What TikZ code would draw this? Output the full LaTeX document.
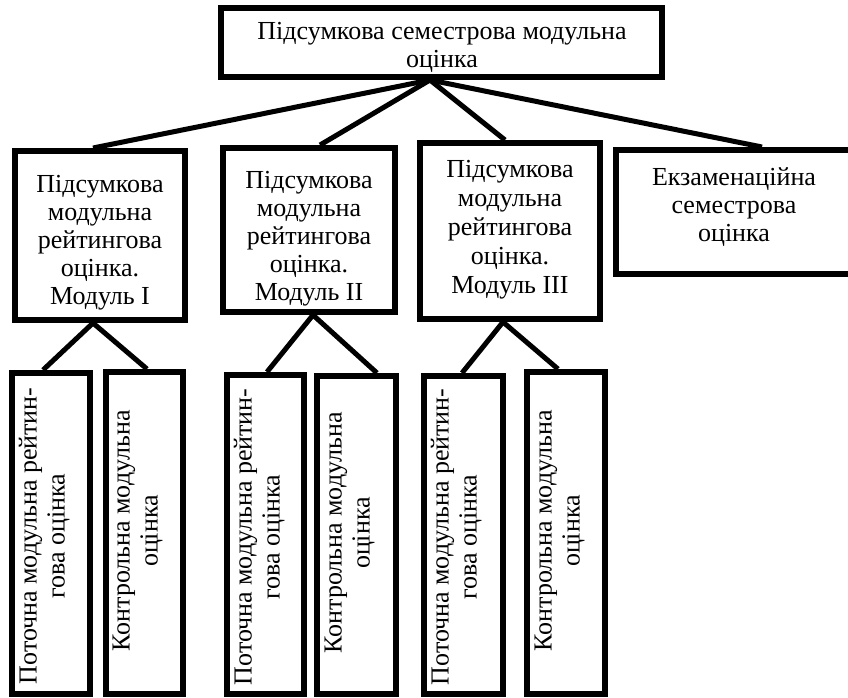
\documentclass[tikz,border=0pt]{standalone}
\usepackage{fontspec}
\setmainfont{Liberation Serif}
\newcommand\vlabel[1]{\rotatebox{90}{\begin{tabular}{@{}c@{}}#1\end{tabular}}}
\begin{document}
\begin{tikzpicture}[x=1pt,y=-1pt,
  box/.style={draw=black, line width=6pt, rectangle, inner sep=0pt},
  txt/.style={inner sep=0pt, align=center, font=\fontsize{26}{28}\selectfont},
  link/.style={draw=black, line width=5pt}]
\clip (0,0) rectangle (848,697);
% top
\node[box, minimum width=441pt, minimum height=69pt] (top) at (441.5,42.5) {};
\node[txt] (ttop) at (442,47) {Підсумкова семестрова модульна\\оцінка};
% middle
\node[box, minimum width=170pt, minimum height=169pt] (b1) at (100,235.5) {};
\node[txt] (tb1) at (100,243) {Підсумкова\\модульна\\рейтингова\\оцінка.\\Модуль I};
\node[box, minimum width=172pt, minimum height=164pt] (b2) at (309,230) {};
\node[txt] (tb2) at (309,239) {Підсумкова\\модульна\\рейтингова\\оцінка.\\Модуль II};
\node[box, minimum width=180pt, minimum height=176pt] (b3) at (510,231) {};
\node[txt, font=\fontsize{26}{29}\selectfont] (tb3) at (510,230) {Підсумкова\\модульна\\рейтингова\\оцінка.\\Модуль III};
\node[box, minimum width=236pt, minimum height=124pt] (b4) at (734,212) {};
\node[txt] (tb4) at (734,207) {Екзаменаційна\\семестрова\\оцінка};
% bottom
\node[box, minimum width=78pt, minimum height=321pt] (c1a) at (51,533.5) {};
\node[txt] (tc1a) at (45,536) {\vlabel{Поточна модульна рейтин-\\гова оцінка}};
\node[box, minimum width=77pt, minimum height=322pt] (c1b) at (144.5,533) {};
\node[txt] (tc1b) at (138,531) {\vlabel{Контрольна модульна\\оцінка}};
\node[box, minimum width=77pt, minimum height=319pt] (c2a) at (265.5,534.5) {};
\node[txt] (tc2a) at (260,537) {\vlabel{Поточна модульна рейтин-\\гова оцінка}};
\node[box, minimum width=79pt, minimum height=318pt] (c2b) at (356.5,535) {};
\node[txt] (tc2b) at (350,533) {\vlabel{Контрольна модульна\\оцінка}};
\node[box, minimum width=79pt, minimum height=318pt] (c3a) at (463.5,535) {};
\node[txt] (tc3a) at (457,537) {\vlabel{Поточна модульна рейтин-\\гова оцінка}};
\node[box, minimum width=78pt, minimum height=322pt] (c3b) at (566,533) {};
\node[txt] (tc3b) at (560,531) {\vlabel{Контрольна модульна\\оцінка}};
% connectors
\coordinate (apex) at ([xshift=-11.5pt]top.south);
\draw[link] (apex) -- ([xshift=-7pt]b1.north);
\draw[link] (apex) -- ([xshift=11pt]b2.north);
\draw[link] (apex) -- ([xshift=-5pt]b3.north);
\draw[link] (apex) -- ([xshift=28pt]b4.north);
\draw[link] ([xshift=-7pt]b1.south) -- ([xshift=-8pt]c1a.north);
\draw[link] ([xshift=-7pt]b1.south) -- ([xshift=2.5pt]c1b.north);
\draw[link] ([xshift=4pt]b2.south) -- ([xshift=1.5pt]c2a.north);
\draw[link] ([xshift=4pt]b2.south) -- ([xshift=20.5pt]c2b.north);
\draw[link] ([xshift=-7pt]b3.south) -- ([xshift=-1.5pt]c3a.north);
\draw[link] ([xshift=-7pt]b3.south) -- ([xshift=-8pt]c3b.north);
\end{tikzpicture}
\end{document}
